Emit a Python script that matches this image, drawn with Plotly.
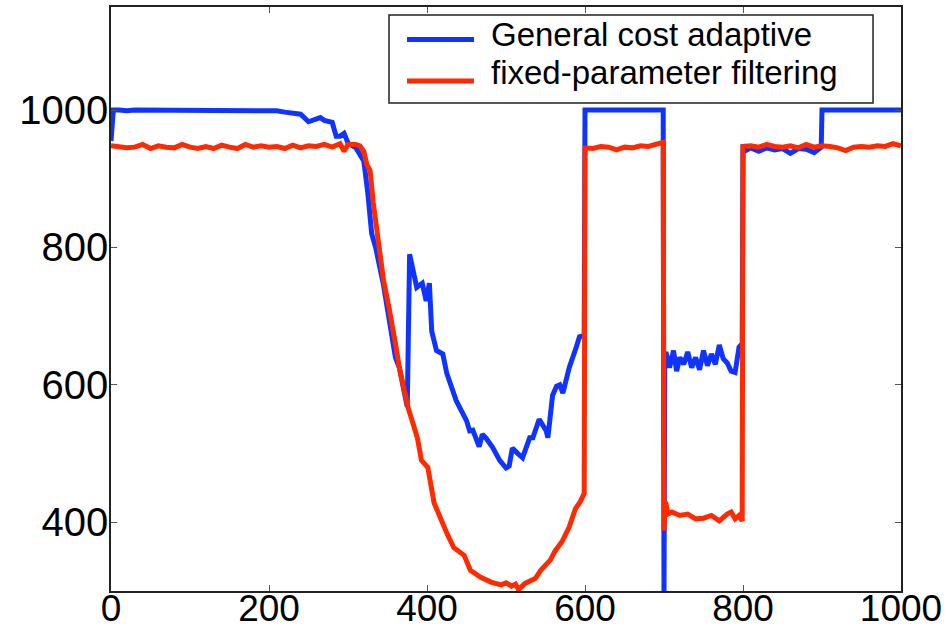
import plotly.graph_objects as go

# ---- data ----
x_blue = [0, 3, 10, 20, 30, 40, 50, 60, 70, 80, 90, 100, 110, 120, 130, 140, 150, 160, 170, 180,
          190, 200, 210, 220, 230, 240, 250, 260, 265, 270, 280, 285, 290, 295, 300, 310, 320, 325,
          330, 335, 340, 345, 350, 355, 360, 365, 370, 375, 378, 382, 387, 394, 399, 403, 406, 412,
          420, 425, 432, 437, 441, 445, 450, 454, 458, 466, 470, 475, 483, 492, 500, 504, 508, 515,
          521, 530, 534, 542, 546, 551, 553, 559, 564, 568, 572, 580, 589, 593, 599,
          600, 610, 620, 630, 640, 650, 660, 670, 680, 690, 699,
          700, 701, 703, 707, 712, 716, 720, 725, 730, 735, 740, 745, 750, 755, 760, 765, 770, 775,
          780, 785, 790, 795, 799,
          800, 802, 810, 820, 830, 840, 850, 860, 870, 880, 890, 899,
          900, 910, 920, 930, 940, 950, 960, 970, 980, 990, 1000]
y_blue = [955, 1000, 1000, 999, 1000, 1000, 999, 1000, 1000, 999, 1000, 1000, 999, 1000, 1000, 1000, 999, 1000, 1000, 1000,
          1000, 1000, 999, 997, 995, 994, 983, 986, 989, 985, 982, 962, 962, 966, 952, 945, 926, 880,
          820, 800, 776, 745, 710, 672, 640, 625, 600, 568, 790, 770, 742, 748, 722, 748, 678, 650,
          645, 617, 590, 577, 568, 558, 548, 533, 534, 510, 528, 522, 509, 490, 479, 482, 508, 500,
          494, 523, 523, 550, 543, 533, 523, 585, 598, 600, 588, 625, 655, 670, 672,
          1000, 1000, 1000, 1000, 1000, 1000, 1000, 1000, 1000, 1000, 1000,
          290, 645, 645, 625, 650, 620, 640, 630, 648, 625, 640, 622, 650, 628, 645, 630, 658, 638,
          632, 620, 618, 655, 660,
          950, 940, 945, 940, 945, 942, 944, 937, 944, 943, 938, 946,
          1000, 1000, 1000, 1000, 1000, 1000, 1000, 1000, 1000, 1000, 1000]

x_red = [0, 10, 20, 30, 40, 50, 60, 70, 80, 90, 100, 110, 120, 130, 140, 150, 160, 170, 180, 190,
         200, 210, 220, 230, 240, 250, 260, 270, 280, 290, 295, 300, 310, 315, 320, 324, 328, 332,
         337, 341, 345, 352, 357, 361, 365, 370, 376, 382, 388, 393, 401, 409, 418, 426, 434, 447,
         455, 468, 481, 494, 500, 507, 512, 516, 524, 537, 544, 550, 556, 562, 571, 580, 588, 594, 599,
         600, 610, 620, 630, 640, 650, 660, 670, 680, 690, 699,
         700, 702, 705, 710, 720, 730, 740, 750, 760, 770, 780, 785, 790, 795, 799,
         800, 810, 820, 830, 840, 850, 860, 870, 880, 890, 900, 910, 920, 930, 940, 950, 960, 970,
         980, 990, 1000]
y_red = [948, 947, 945, 946, 950, 944, 948, 946, 945, 950, 946, 944, 947, 944, 949, 946, 944, 950, 946, 948,
         946, 947, 944, 949, 945, 948, 947, 950, 946, 951, 940, 950, 950, 948, 940, 920, 912, 865,
         824, 790, 752, 712, 683, 654, 625, 596, 567, 545, 522, 490, 480, 428, 402, 382, 363, 352,
         330, 320, 313, 309, 312, 307, 310, 302, 311, 318, 330, 338, 345, 358, 372, 393, 420, 430, 442,
         945, 944, 947, 946, 942, 946, 945, 948, 947, 950, 953,
         388, 430, 412, 415, 410, 412, 405, 406, 410, 402, 412, 415, 405, 410, 402,
         947, 948, 946, 950, 947, 946, 948, 945, 950, 946, 948, 947, 945, 941, 946, 947, 946, 948,
         947, 951, 948]

x_ticks = [0, 200, 400, 600, 800, 1000]
y_ticks = [400, 600, 800, 1000]
names = ["General cost adaptive", "fixed-parameter filtering"]
colors = ["#1034FF", "#FF2A00"]

FONT = "Liberation Sans, Arial, Helvetica, sans-serif"

fig = go.Figure()
fig.add_trace(go.Scatter(x=x_blue, y=y_blue, mode="lines", name=names[0],
                         line=dict(color=colors[0], width=5), showlegend=False))
fig.add_trace(go.Scatter(x=x_red, y=y_red, mode="lines", name=names[1],
                         line=dict(color=colors[1], width=5), showlegend=False))

axis_common = dict(showline=True, linecolor="#222222", linewidth=1.5, mirror="ticks",
                   ticks="inside", ticklen=6, tickwidth=1.2, tickcolor="#555555",
                   showgrid=False, zeroline=False, automargin=False)

fig.update_xaxes(range=[0, 1000], tickvals=x_ticks, ticklabelstandoff=-16,
                 tickfont=dict(family=FONT, size=37, color="black"), **axis_common)
fig.update_yaxes(range=[300, 1150], tickvals=y_ticks, ticklabelstandoff=-7,
                 tickfont=dict(family=FONT, size=40, color="black"), **axis_common)

# legend drawn as box + line samples + labels (paper coordinates)
fig.add_shape(type="rect", xref="paper", yref="paper", x0=0.3519, x1=0.9646, y0=0.8356, y1=0.9863,
              line=dict(color="#222222", width=1.5), fillcolor="white", layer="above")
row_y_line = [0.9443, 0.8733]
row_y_text = [0.9529, 0.8878]
for i in range(2):
    fig.add_shape(type="line", xref="paper", yref="paper", x0=0.3747, x1=0.4595,
                  y0=row_y_line[i], y1=row_y_line[i], line=dict(color=colors[i], width=5),
                  layer="above")
    fig.add_annotation(xref="paper", yref="paper", x=0.4797, y=row_y_text[i], text=names[i],
                       showarrow=False, xanchor="left", yanchor="middle", borderpad=0,
                       font=dict(family=FONT, size=33, color="black"))

fig.update_layout(
    width=952, height=629,
    margin=dict(l=111, r=51, t=7, b=38),
    paper_bgcolor="white", plot_bgcolor="white",
    showlegend=False,
)

fig.write_html("out.html", config={"displayModeBar": False},
               post_script="document.body.style.margin='0px';")
